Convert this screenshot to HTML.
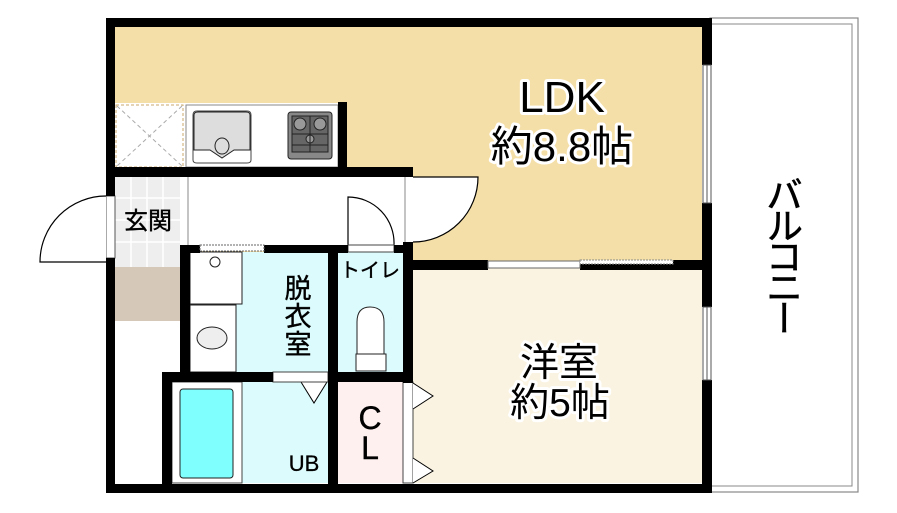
<!DOCTYPE html>
<html><head><meta charset="utf-8"><style>
html,body{margin:0;padding:0;background:#fff;width:897px;height:513px;overflow:hidden}
svg{display:block}
text{font-family:"Liberation Sans","Noto Sans CJK JP",sans-serif;fill:#000}
</style></head><body>
<svg width="897" height="513" viewBox="0 0 897 513" xmlns="http://www.w3.org/2000/svg">
<!-- balcony -->
<rect x="710" y="18" width="148" height="474" fill="#fff" stroke="#888" stroke-width="1.2"/>
<rect x="710" y="24" width="142" height="462" fill="none" stroke="#888" stroke-width="1"/>
<text x="781" y="253" font-size="37" text-anchor="middle" writing-mode="tb" letter-spacing="-6" stroke="#000" stroke-width="0.6">バルコニー</text>
<!-- floors -->
<rect x="115" y="27" width="587" height="238" fill="#f5dfa8"/>
<rect x="413" y="268" width="289" height="215" fill="#faf3e1"/>
<rect x="115" y="103" width="232" height="64" fill="#fff"/>
<rect x="116" y="105" width="67" height="62" fill="#fff" stroke="#c9a96b" stroke-dasharray="3,2"/>
<path d="M117 106 L182 166 M182 106 L117 166" stroke="#aaa" stroke-dasharray="4,3"/>
<!-- sink -->
<rect x="186" y="105" width="152" height="62" fill="#fff" stroke="#888"/>
<path d="M193 115 Q193 111 197 111 H247 Q251 111 251 115 V160 Q251 163 247 163 H197 Q193 163 193 160 Z" fill="#fff" stroke="#444"/>
<path d="M194 115 Q194 112 198 112 H246 Q250 112 250 115 V150 H234 L222 158 L210 150 H194 Z" fill="#ddd" stroke="#222"/>
<ellipse cx="222" cy="146" rx="7" ry="8" fill="#ddd" stroke="#222"/>
<!-- stove -->
<rect x="288" y="112" width="44" height="47" rx="3" fill="#888" stroke="#222"/>
<rect x="292" y="116" width="36" height="36" fill="#666" stroke="#222"/>
<circle cx="300" cy="124" r="6" fill="#999" stroke="#222"/>
<circle cx="320" cy="124" r="6" fill="#999" stroke="#222"/>
<circle cx="310" cy="139" r="4" fill="#999" stroke="#222"/>
<path d="M292 134 H328 M292 145 H328 M310 116 V152" stroke="#222"/>
<!-- genkan -->
<rect x="115" y="177" width="65" height="90" fill="#eee"/>
<path d="M131 177 V267 M147 177 V267 M163 177 V267 M115 198 H180 M115 220 H180 M115 242 H180" stroke="#fff" stroke-width="1.5"/>
<text x="148" y="229" font-size="24" text-anchor="middle" stroke="#000" stroke-width="0.4">玄関</text>
<rect x="115" y="267" width="65" height="54" fill="#d6c8b8"/>
<rect x="106" y="196" width="9" height="62" fill="#fff" stroke="#555"/>
<path d="M106 262 H40 A66 66 0 0 1 106 196" fill="#fff" stroke="#000" stroke-width="1.2"/>
<!-- corridor -->
<rect x="180" y="177" width="233" height="68" fill="#fff"/>
<path d="M188 177 V245 M405 177 V245" stroke="#888"/>
<path d="M348 245 V197 A46 46 0 0 1 394 245" fill="#fff" stroke="#000" stroke-width="1.2"/>
<path d="M413 177 H478 A65 65 0 0 1 413 242" fill="#fff" stroke="#000" stroke-width="1.2"/>
<!-- dressing -->
<rect x="190" y="252" width="140" height="120" fill="#dcfbfd"/>
<rect x="190" y="252" width="52" height="52" fill="#fff" stroke="#222"/>
<circle cx="215" cy="262" r="5" fill="#fff" stroke="#222"/>
<rect x="190" y="305" width="46" height="67" fill="#fff" stroke="#222"/>
<ellipse cx="212" cy="338" rx="15" ry="11" fill="#eee" stroke="#222"/>
<g font-size="27" text-anchor="middle" stroke="#000" stroke-width="0.4">
<text x="298" y="298">脱</text>
<text x="298" y="326">衣</text>
<text x="298" y="354">室</text>
</g>
<!-- toilet -->
<rect x="338" y="252" width="65" height="120" fill="#dcfbfd"/>
<text x="370" y="277" font-size="20" text-anchor="middle" stroke="#000" stroke-width="0.4">トイレ</text>
<path d="M357 355 V322 Q357 307 370 307 Q384 307 384 322 V355 Z" fill="#fff" stroke="#222"/>
<rect x="356" y="354" width="30" height="17" fill="#fff" stroke="#222"/>
<rect x="348" y="245" width="46" height="7" fill="#fff" stroke="#444"/>
<!-- UB -->
<rect x="172" y="382" width="156" height="101" fill="#dcfbfd"/>
<rect x="172" y="382" width="70" height="101" fill="#fff" stroke="#444"/>
<rect x="180" y="389" width="53" height="89" rx="3" fill="#80ffff" stroke="#222"/>
<text x="304" y="471" font-size="22" text-anchor="middle" stroke="#000" stroke-width="0.3">UB</text>
<path d="M301 382 L314 403 L327 382" fill="#fff" stroke="#000"/>
<rect x="273" y="372" width="55" height="10" fill="#fff" stroke="#444"/>
<!-- CL -->
<rect x="338" y="382" width="65" height="101" fill="#fff0f0"/>
<text x="370" y="429" font-size="32" text-anchor="middle" stroke="#000" stroke-width="0.4">C</text>
<text x="370" y="459" font-size="32" text-anchor="middle" stroke="#000" stroke-width="0.4">L</text>
<rect x="403" y="382" width="10" height="101" fill="#fff" stroke="#444"/>
<path d="M413 383 L433 396 L413 409 M413 458 L433 471 L413 483" fill="#fff" stroke="#000"/>
<!-- walls -->
<g fill="#000">
<rect x="106" y="18" width="604" height="9"/>
<rect x="106" y="18" width="9" height="178"/>
<rect x="106" y="258" width="9" height="235"/>
<rect x="106" y="484" width="604" height="9"/>
<rect x="702" y="18" width="10" height="47"/>
<rect x="702" y="203" width="10" height="104"/>
<rect x="702" y="380" width="10" height="113"/>
<rect x="338" y="102" width="9" height="65"/>
<rect x="115" y="167" width="298" height="10"/>
<rect x="400" y="167" width="13" height="10"/>
<rect x="180" y="245" width="20" height="8"/>
<rect x="264" y="245" width="84" height="8"/>
<rect x="394" y="245" width="19" height="8"/>
<rect x="180" y="245" width="10" height="137"/>
<rect x="328" y="245" width="10" height="239"/>
<rect x="403" y="242" width="10" height="141"/>
<rect x="162" y="372" width="111" height="10"/>
<rect x="328" y="372" width="85" height="10"/>
<rect x="162" y="372" width="10" height="121"/>
<rect x="413" y="260" width="75" height="10"/>
<rect x="580" y="260" width="122" height="10"/>
</g>
<rect x="200" y="245" width="64" height="6" fill="#fff" stroke="#666" stroke-dasharray="2,1"/>
<rect x="488" y="261" width="92" height="7" fill="#fff" stroke="#666"/>
<rect x="580" y="260" width="93" height="4" fill="#fff" stroke="#888" stroke-dasharray="2,1"/>
<rect x="703" y="65" width="8" height="138" fill="#fff" stroke="#555"/>
<rect x="703" y="307" width="8" height="73" fill="#fff" stroke="#555"/>
<path d="M707 65 V203 M707 307 V380" stroke="#555"/>
<!-- labels -->
<g stroke="#fff" stroke-width="6" stroke-linejoin="round" style="paint-order:stroke">
<text x="562" y="112" font-size="44" text-anchor="middle">LDK</text>
<text x="562" y="161" font-size="42" text-anchor="middle">約8.8帖</text>
<text x="559" y="376" font-size="39" text-anchor="middle">洋室</text>
<text x="560" y="416" font-size="39" text-anchor="middle">約5帖</text>
</g>
</svg>
</body></html>
